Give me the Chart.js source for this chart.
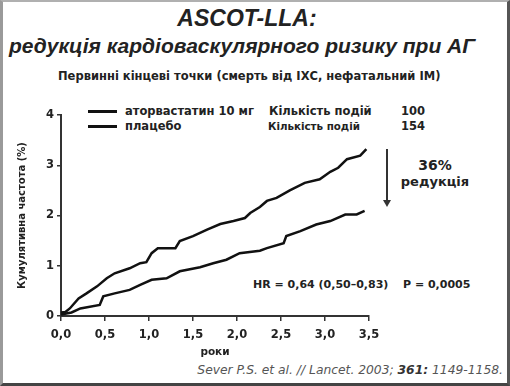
<!DOCTYPE html>
<html>
<head>
<meta charset="utf-8">
<script src="https://cdn.jsdelivr.net/npm/chart.js@4"></script>
<style>
  html, body { margin: 0; padding: 0; background: #fff; }
  #frame {
    position: relative; width: 510px; height: 386px; box-sizing: border-box;
    border-left: 3px solid #9a9a9a; border-top: 2px solid #b0b0b0;
    border-right: 3px solid #555; border-bottom: 3px solid #444;
    overflow: hidden; color: #222;
  }
  .t { position: absolute; white-space: nowrap; }
  .title { font-family: "Liberation Sans", Arial, sans-serif; font-weight: bold; font-style: italic; color: #222; }
  .v { font-family: "DejaVu Sans", Verdana, sans-serif; font-weight: bold; font-size: 11px; }
  .ln { position: absolute; height: 3px; background: #111; width: 29px; }
  #chartBox { position: absolute; left: -3px; top: 98px; width: 400px; height: 264px; }
</style>
</head>
<body>
<div id="frame">
  <div class="t title" style="left:0;width:488px;text-align:center;top:3px;font-size:23px;">ASCOT-LLA:</div>
  <div class="t title" style="left:6px;top:32px;font-size:21px;">редукція кардіоваскулярного ризику при АГ</div>
  <div class="t v" style="left:55px;top:67px;font-size:11.5px;">Первинні кінцеві точки (смерть від ІХС, нефатальний ІМ)</div>

  <div class="ln" style="left:85px;top:108px;"></div>
  <div class="t v" style="left:122px;top:102px;font-size:11.5px;">аторвастатин 10 мг</div>
  <div class="t v" style="left:266px;top:102px;font-size:11.5px;">Кількість подій</div>
  <div class="t v" style="left:398px;top:102px;font-size:11.5px;">100</div>
  <div class="ln" style="left:85px;top:123px;"></div>
  <div class="t v" style="left:122px;top:117px;font-size:11.5px;">плацебо</div>
  <div class="t v" style="left:265px;top:118px;font-size:10.3px;">Кількість подій</div>
  <div class="t v" style="left:398px;top:117px;font-size:11.5px;">154</div>

  <div style="position:absolute;left:383px;top:147px;width:2px;height:52px;background:#333;"></div>
  <div style="position:absolute;left:380px;top:198px;width:0;height:0;border-left:4px solid transparent;border-right:4px solid transparent;border-top:7px solid #333;"></div>
  <div class="t v" style="left:397px;width:70px;text-align:center;top:155px;font-size:14px;">36%</div>
  <div class="t v" style="left:397px;width:70px;text-align:center;top:172px;font-size:13px;">редукція</div>

  <div class="t v" style="left:250px;top:276px;">HR = 0,64 (0,50–0,83)</div>
  <div class="t v" style="left:400px;top:276px;">P = 0,0005</div>

  <div class="t" style="right:4px;top:361px;font-family:'DejaVu Sans',Verdana,sans-serif;font-style:italic;font-size:12.3px;color:#555;">Sever P.S. et al. // Lancet. 2003; <b style="color:#333">361:</b> 1149-1158.</div>

  <div id="chartBox"><canvas id="riskChart" width="400" height="264"></canvas></div>
</div>
<script>
// cumulative incidence (%)
const placeboYears = [0, 0.05, 0.1, 0.2, 0.29, 0.41, 0.52, 0.61, 0.78, 0.9, 0.97, 1.03, 1.1, 1.3, 1.35, 1.5, 1.66, 1.81, 1.96, 2.09, 2.15, 2.26, 2.34, 2.45, 2.6, 2.77, 2.94, 3.06, 3.15, 3.25, 3.4, 3.47];
const placeboRisk = [0.07, 0.08, 0.15, 0.35, 0.45, 0.59, 0.75, 0.85, 0.95, 1.05, 1.07, 1.25, 1.35, 1.35, 1.49, 1.59, 1.72, 1.83, 1.89, 1.95, 2.05, 2.17, 2.29, 2.35, 2.5, 2.65, 2.72, 2.87, 2.95, 3.12, 3.19, 3.32];
const atorvaYears = [0, 0.12, 0.22, 0.44, 0.48, 0.61, 0.78, 0.9, 1.03, 1.2, 1.35, 1.58, 1.73, 1.88, 2.03, 2.26, 2.34, 2.53, 2.56, 2.72, 2.9, 3.06, 3.23, 3.36, 3.45];
const atorvaRisk = [0.03, 0.07, 0.15, 0.22, 0.39, 0.45, 0.52, 0.62, 0.72, 0.75, 0.89, 0.97, 1.05, 1.12, 1.25, 1.3, 1.35, 1.45, 1.59, 1.69, 1.82, 1.89, 2.02, 2.02, 2.09];
const xTickLabels = ['0,0', '0,5', '1,0', '1,5', '2,0', '2,5', '3,0', '3,5'];
const yTickLabels = ['0', '1', '2', '3', '4'];

function toPoints(xs, ys) {
    return xs.map((x, i) => ({ x: x, y: ys[i] }));
}

const tickFont = { family: 'DejaVu Sans', weight: 'bold', size: 11.5 };
const axisColor = '#333';

new Chart(document.getElementById('riskChart'), {
    type: 'line',
    data: {
        datasets: [{
            label: 'аторвастатин 10 мг',
            data: toPoints(atorvaYears, atorvaRisk),
            borderColor: '#111',
            borderWidth: 2.5,
            pointRadius: 0,
            tension: 0
        }, {
            label: 'плацебо',
            data: toPoints(placeboYears, placeboRisk),
            borderColor: '#111',
            borderWidth: 2.5,
            pointRadius: 0,
            tension: 0
        }]
    },
    options: {
        responsive: false,
        animation: false,
        maintainAspectRatio: false,
        layout: { padding: { left: 6, right: 31, top: 15, bottom: 0 } },
        plugins: { legend: { display: false }, tooltip: { enabled: false } },
        scales: {
            x: {
                type: 'linear', min: 0, max: 3.5,
                afterFit: s => { s.height = 48; },
                ticks: { stepSize: 0.5, font: tickFont, color: '#222', padding: 7,
                         callback: (v) => xTickLabels[Math.round(v * 2)] },
                grid: { drawOnChartArea: false, tickLength: 5, color: axisColor, lineWidth: 1.5 },
                border: { color: axisColor, width: 2 },
                title: { display: true, text: 'роки', font: { family: 'DejaVu Sans', weight: 'bold', size: 10.5 }, color: '#222', padding: { top: 2, bottom: 5 } }
            },
            y: {
                min: 0, max: 4,
                afterFit: s => { s.width = 55; },
                ticks: { stepSize: 1, font: tickFont, color: '#222', padding: 3,
                         callback: (v) => yTickLabels[v] },
                grid: { drawOnChartArea: false, tickLength: 4, color: axisColor, lineWidth: 1.5 },
                border: { color: axisColor, width: 2 },
                title: { display: true, text: 'Кумулятивна частота (%)', font: { family: 'DejaVu Sans', weight: 'bold', size: 10 }, color: '#222', padding: { top: 10, bottom: 0 } }
            }
        }
    }
});
</script>
</body>
</html>
